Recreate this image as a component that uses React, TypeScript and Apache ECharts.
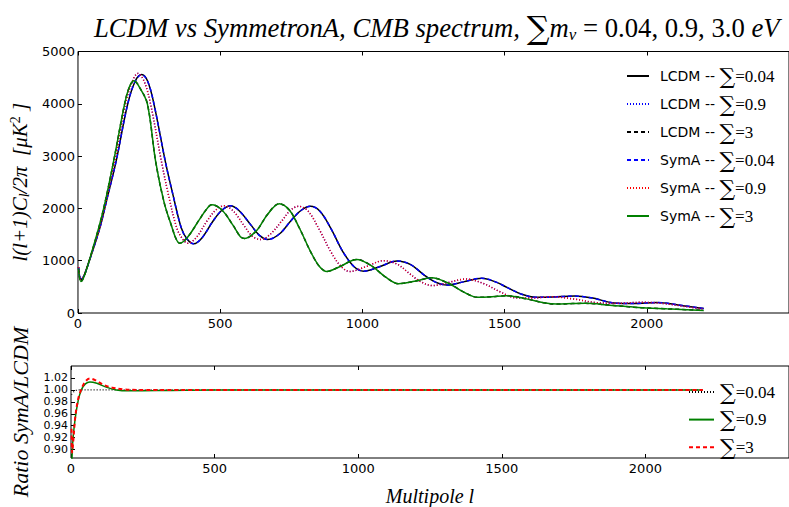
import React, { useEffect, useRef } from 'react';
import * as echarts from 'echarts';

// ---------- data ----------
const xTicks = [0, 500, 1000, 1500, 2000];
const yTicksRatio = [0.9, 0.92, 0.94, 0.96, 0.98, 1.0, 1.02];
const yLabelsRatioA = [0.9, 0.94, 0.98, 1.02];
const yLabelsRatioB = [0.92, 0.96, 1.0];

const topNames = [
  'LCDM -- ∑=0.04',
  'LCDM -- ∑=0.9',
  'LCDM -- ∑=3',
  'SymA -- ∑=0.04',
  'SymA -- ∑=0.9',
  'SymA -- ∑=3',
];
const ratioNames = ['∑=0.04', '∑=0.9', '∑=3'];

// D_l for sum m_nu = 0.04 eV
const cl004 = [
  [2, 880], [10, 640], [20, 700], [40, 1000], [77, 1630], [101, 2160], [134, 2900], [175, 4000],
  [202, 4440], [224, 4560], [245, 4430], [267, 4000], [307, 2900], [334, 2260], [363, 1630],
  [384, 1410], [407, 1325], [435, 1430], [475, 1760], [505, 1960], [536, 2050], [566, 1960],
  [607, 1690], [637, 1490], [667, 1405], [708, 1510], [748, 1760], [784, 1960], [817, 2040],
  [850, 1950], [890, 1610], [930, 1185], [970, 890], [1005, 800], [1060, 885], [1122, 995],
  [1170, 925], [1215, 735], [1255, 595], [1298, 535], [1355, 595], [1420, 665], [1470, 590],
  [1510, 485], [1560, 360], [1610, 300], [1670, 305], [1745, 325], [1810, 285], [1885, 190],
  [1955, 180], [2035, 200], [2110, 155], [2200, 85],
];
// D_l for sum m_nu = 0.9 eV
const cl09 = [
  [2, 880], [10, 640], [20, 700], [40, 1010], [77, 1650], [101, 2190], [131, 2960], [167, 4000],
  [192, 4440], [210, 4580], [232, 4440], [255, 4000], [293, 2910], [318, 2260], [347, 1630],
  [366, 1430], [386, 1335], [414, 1430], [455, 1770], [485, 1970], [513, 2050], [546, 1950],
  [584, 1670], [613, 1470], [642, 1405], [677, 1510], [718, 1770], [748, 1970], [776, 2040],
  [809, 1950], [849, 1590], [890, 1160], [925, 890], [955, 795], [1010, 880], [1074, 1000],
  [1122, 935], [1163, 765], [1203, 605], [1247, 525], [1304, 585], [1364, 650], [1425, 565],
  [1486, 400], [1540, 290], [1597, 285], [1666, 310], [1740, 270], [1820, 200], [1900, 185],
  [1980, 205], [2060, 180], [2140, 120], [2200, 75],
];
// D_l for sum m_nu = 3 eV
const cl3 = [
  [2, 850], [10, 600], [20, 680], [40, 1010], [77, 1710], [101, 2260], [131, 3060], [164, 4000],
  [182, 4340], [197, 4440], [217, 4310], [244, 4000], [273, 2900], [303, 2110], [331, 1630],
  [344, 1430], [357, 1335], [384, 1440], [425, 1770], [450, 1970], [470, 2070], [506, 1970],
  [546, 1670], [571, 1460], [586, 1425], [627, 1570], [667, 1890], [708, 2090], [743, 1970],
  [778, 1630], [819, 1160], [849, 890], [875, 795], [920, 885], [980, 1025], [1031, 905],
  [1082, 685], [1127, 560], [1183, 605], [1243, 675], [1304, 565], [1355, 405], [1405, 300],
  [1456, 310], [1506, 330], [1577, 270], [1638, 195], [1683, 170], [1739, 180], [1784, 185],
  [1870, 150], [1970, 105], [2070, 80], [2200, 50],
];

// SymA / LCDM ratios
const ratio004 = [[2, 0.992], [10, 0.997], [25, 1.0], [2200, 1.0]];
const ratio09 = [
  [2, 0.86], [6, 0.912], [14, 0.95], [25, 0.982], [36, 1.0], [50, 1.01], [66, 1.0133], [90, 1.011],
  [120, 1.005], [158, 1.0], [200, 0.9985], [300, 0.9988], [400, 0.9995], [600, 1.0], [2200, 1.0],
];
const ratio3 = [
  [2, 0.935], [4, 0.895], [8, 0.915], [15, 0.955], [25, 0.985], [35, 1.0], [50, 1.014], [66, 1.019],
  [86, 1.016], [111, 1.009], [142, 1.004], [182, 1.001], [232, 1.0], [2200, 1.0],
];

// ---------- styling ----------
const SANS = 'DejaVu Sans';
const SERIF = 'Liberation Serif';

const legendRich = (iconGap: number) => ({
  a: { fontFamily: SANS, fontSize: 14, color: '#000', lineHeight: 20, padding: [0, 0, 0, iconGap] },
  p: { fontFamily: SANS, fontSize: 14, color: '#000', lineHeight: 20, padding: [0, 0, 0, iconGap] },
  s: { fontFamily: 'DejaVu Serif', fontSize: 22, color: '#000', lineHeight: 20 },
  b: { fontFamily: SERIF, fontSize: 17, color: '#000', lineHeight: 20 },
});
const legendFmt = (name: string) => {
  const [pre, val] = name.split('∑');
  return pre ? `{a|${pre}}{s|∑}{b|${val}}` : `{p|}{s|∑}{b|${val}}`;
};

const tickLabel = { fontFamily: SANS, fontSize: 13, color: '#000' };
const ratioLabel = { fontFamily: SANS, fontSize: 11, lineHeight: 11, color: '#000' };
const plain = (v: number) => String(v);
const RMIN = 0.886;
const RMAX = 1.04;

function buildOption() {
  const line = (name: string, data: number[][], xi: number, color: string, type: any, width = 1.5) => ({
    name,
    type: 'line',
    xAxisIndex: xi,
    yAxisIndex: xi === 0 ? 0 : 1,
    data,
    showSymbol: false,
    symbol: 'none',
    smooth: 0.35,
    lineStyle: { color, type, width },
    itemStyle: { color },
  });

  const xBase = (gridIndex: number) => ({
    type: 'value', gridIndex, min: 0, max: 2500,
    axisLine: { show: false },
    splitLine: { show: false },
  });

  return {
    animation: false,
    backgroundColor: '#fff',
    title: {
      left: 89,
      top: 7,
      text: '{i|LCDM vs SymmetronA, CMB spectrum, }{s|∑}{i|m}{sub|ν}{r| = 0.04, 0.9, 3.0 }{i|eV}',
      textStyle: {
        fontWeight: 'normal',
        rich: {
          i: { fontFamily: SERIF, fontStyle: 'italic', fontWeight: 'normal', fontSize: 26.7, color: '#000' },
          r: { fontFamily: SERIF, fontWeight: 'normal', fontSize: 26.7, color: '#000' },
          s: { fontFamily: 'DejaVu Serif', fontWeight: 'normal', fontSize: 32, color: '#000' },
          sub: { fontFamily: SERIF, fontStyle: 'italic', fontWeight: 'normal', fontSize: 17, color: '#000', padding: [12, 0, 0, 0] },
        },
      },
    },
    grid: [
      { left: 71, top: 51.5, width: 723, height: 261.5, show: true, borderColor: '#000', borderWidth: 1 },
      { left: 71, top: 366, width: 723, height: 105.7, show: true, borderColor: '#000', borderWidth: 1 },
    ],
    xAxis: [
      {
        ...xBase(0),
        axisTick: { inside: true, length: 4, customValues: xTicks, lineStyle: { color: '#000' } },
        axisLabel: { ...tickLabel, margin: 4, customValues: xTicks, formatter: plain },
      },
      {
        ...xBase(1),
        axisTick: { inside: true, length: 4, customValues: xTicks, lineStyle: { color: '#000' } },
        axisLabel: { ...tickLabel, margin: 4, customValues: xTicks, formatter: plain },
        name: 'Multipole l',
        nameLocation: 'middle',
        nameGap: 28,
        nameTextStyle: { fontFamily: SERIF, fontStyle: 'italic', fontSize: 20, color: '#000' },
      },
      {
        ...xBase(0), position: 'top',
        axisTick: { inside: true, length: 4, customValues: xTicks, lineStyle: { color: '#000' } },
        axisLabel: { show: false },
      },
      {
        ...xBase(1), position: 'top',
        axisTick: { inside: true, length: 4, customValues: xTicks, lineStyle: { color: '#000' } },
        axisLabel: { show: false },
      },
    ],
    yAxis: [
      {
        type: 'value', gridIndex: 0, min: 0, max: 5000, interval: 1000,
        axisLine: { show: false },
        splitLine: { show: false },
        axisTick: { inside: true, length: 4, lineStyle: { color: '#000' } },
        axisLabel: { ...tickLabel, margin: 3, formatter: plain, showMinLabel: true, showMaxLabel: true },
        name: '{i|l(l+1)C}{sub|l}{i|/2π  [μK}{sup|2}{i| ]}',
        nameLocation: 'middle',
        nameRotate: 90,
        nameGap: 40,
        nameTextStyle: {
          rich: {
            i: { fontFamily: SERIF, fontStyle: 'italic', fontSize: 21, color: '#000' },
            sub: { fontFamily: SERIF, fontStyle: 'italic', fontSize: 14, color: '#000', padding: [9, 0, 0, 0] },
            sup: { fontFamily: SERIF, fontSize: 14, color: '#000', padding: [0, 0, 9, 0] },
          },
        },
      },
      {
        type: 'value', gridIndex: 1, min: RMIN, max: RMAX, position: 'left', offset: 0,
        axisLine: { show: false },
        splitLine: { show: false },
        axisTick: { inside: true, length: 4, customValues: yTicksRatio, lineStyle: { color: '#000' } },
        axisLabel: {
          ...ratioLabel, margin: 3, customValues: yLabelsRatioA,
          showMinLabel: true, showMaxLabel: true,
          formatter: (v: number) => v.toFixed(2),
        },
        name: 'Ratio SymA/LCDM',
        nameLocation: 'middle',
        nameRotate: 90,
        nameGap: 40,
        nameTextStyle: { fontFamily: SERIF, fontStyle: 'italic', fontSize: 22, color: '#000' },
      },
      {
        type: 'value', gridIndex: 1, min: RMIN, max: RMAX, position: 'left', offset: 0,
        axisLine: { show: false },
        splitLine: { show: false },
        axisTick: { show: false },
        axisLabel: {
          ...ratioLabel, margin: 3, customValues: yLabelsRatioB,
          showMinLabel: true, showMaxLabel: true,
          formatter: (v: number) => v.toFixed(2),
        },
      },
    ],
    legend: [
      {
        data: topNames,
        orient: 'vertical',
        left: 621,
        top: 60,
        itemWidth: 22,
        itemHeight: 10,
        itemGap: 6,
        itemStyle: { opacity: 0 },
        formatter: legendFmt,
        textStyle: { rich: legendRich(6) },
      },
      {
        data: ratioNames,
        orient: 'vertical',
        left: 683,
        top: 376,
        itemWidth: 25,
        itemHeight: 10,
        itemGap: 5.6,
        itemStyle: { opacity: 0 },
        formatter: legendFmt,
        textStyle: { rich: legendRich(1) },
      },
    ],
    series: [
      line(topNames[0], cl004, 0, '#000000', 'solid'),
      line(topNames[1], cl09, 0, '#0000ff', [1, 2]),
      line(topNames[2], cl3, 0, '#000000', [4, 3]),
      line(topNames[3], cl004, 0, '#0000ff', [4, 3]),
      line(topNames[4], cl09, 0, '#ff0000', [1, 2]),
      line(topNames[5], cl3, 0, '#008000', 'solid'),
      line(ratioNames[0], ratio004, 1, '#000000', [1, 2], 1.2),
      line(ratioNames[1], ratio09, 1, '#008000', 'solid', 1.5),
      line(ratioNames[2], ratio3, 1, '#ff0000', [4, 3], 2),
    ],
  };
}

export default function App() {
  const ref = useRef<HTMLDivElement>(null);
  useEffect(() => {
    if (!ref.current) return;
    const chart = echarts.init(ref.current, null, { renderer: 'svg' });
    chart.setOption(buildOption() as any);
    return () => chart.dispose();
  }, []);
  return (
    <div
      ref={ref}
      style={{ position: 'absolute', left: 0, top: 0, width: 789, height: 507, background: '#fff' }}
    />
  );
}
